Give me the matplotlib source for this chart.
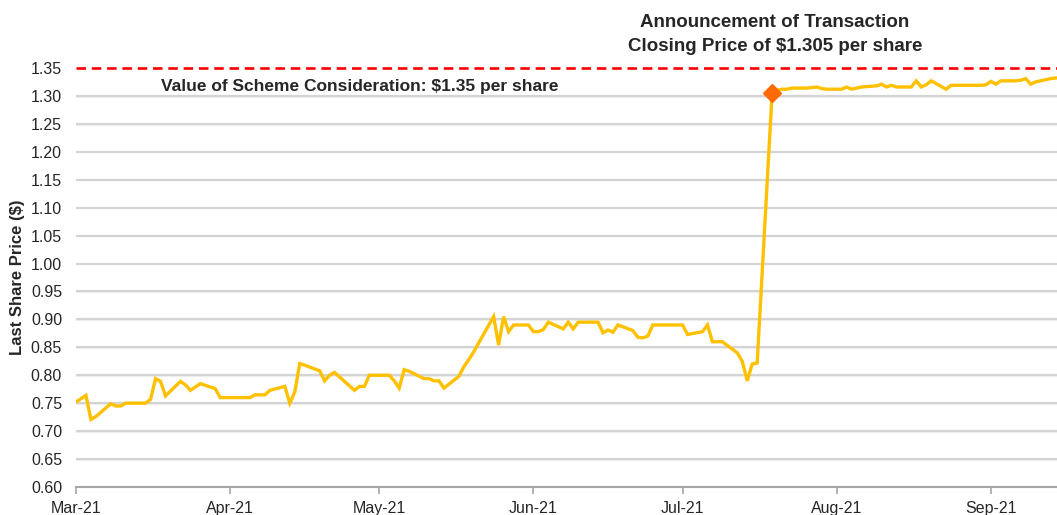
import matplotlib
matplotlib.use("Agg")
import matplotlib.pyplot as plt
import pandas as pd

start_date = "2021-03-01"
end_date = "2021-09-14"

prices = [
    # March
    0.752, 0.758, 0.764, 0.721, 0.726,
    0.749, 0.745, 0.745, 0.750, 0.750,
    0.750, 0.757, 0.794, 0.789, 0.763,
    0.789, 0.783, 0.773, 0.779, 0.785,
    0.776, 0.760, 0.760,
    # April
    0.760, 0.760,
    0.760, 0.765, 0.765, 0.765, 0.773,
    0.780, 0.750, 0.770, 0.821, 0.818,
    0.808, 0.790, 0.800, 0.805, 0.797,
    0.773, 0.780, 0.780, 0.800, 0.800,
    # May
    0.800, 0.790, 0.777, 0.810, 0.807,
    0.794, 0.794, 0.790, 0.790, 0.777,
    0.798, 0.815, 0.828, 0.842, 0.858,
    0.905, 0.854, 0.905, 0.878, 0.890,
    0.890,
    # June
    0.878, 0.878, 0.882, 0.895,
    0.883, 0.895, 0.883, 0.895, 0.895,
    0.895, 0.876, 0.881, 0.877, 0.890,
    0.880, 0.868, 0.867, 0.870, 0.890,
    0.890, 0.890, 0.890,
    # July
    0.890, 0.873,
    0.878, 0.890, 0.860, 0.860, 0.860,
    0.840, 0.825, 0.790, 0.820, 0.822,
    1.305, 1.310, 1.312, 1.312, 1.314,
    1.314, 1.315, 1.316, 1.313, 1.312,
    # August
    1.312, 1.316, 1.312, 1.314, 1.316,
    1.318, 1.321, 1.316, 1.319, 1.316,
    1.316, 1.327, 1.316, 1.320, 1.327,
    1.312, 1.319, 1.319, 1.319, 1.319,
    1.319, 1.320,
    # September
    1.326, 1.321, 1.327,
    1.327, 1.328, 1.331, 1.321, 1.325,
    1.331, 1.332,
]

scheme_value = 1.35
announce_date = "2021-07-19"
announce_price = 1.305

y_ticks = [0.60, 0.65, 0.70, 0.75, 0.80, 0.85, 0.90, 0.95, 1.00,
           1.05, 1.10, 1.15, 1.20, 1.25, 1.30, 1.35]
x_tick_dates = ["2021-03-01", "2021-04-01", "2021-05-01", "2021-06-01",
                "2021-07-01", "2021-08-01", "2021-09-01"]

dates = pd.bdate_range(start_date, end_date)
assert len(dates) == len(prices), (len(dates), len(prices))

reg = ['Liberation Sans', 'DejaVu Sans']
txtc = '#262626'

fig = plt.figure(figsize=(10.57, 5.15), dpi=100)
ax = fig.add_axes([0.0719, 0.0544, 0.9281, 0.8136])

for yt in y_ticks[1:]:
    if yt < 1.35:
        ax.axhline(yt, color='#d4d4d4', lw=1.6, zorder=1)
        ax.axhline(yt - 0.0012, color='#efefef', lw=1.2, zorder=0.9)

ax.axhline(scheme_value, color='#ff0000', lw=1.9, dashes=(3.6, 2.2),
           zorder=2, clip_on=False)

ax.plot(dates, prices, color='#ffc000', lw=2.4, zorder=3,
        solid_joinstyle='miter')
ax.plot(pd.Timestamp(announce_date), announce_price, marker='D',
        color='#ff6a00', markersize=9, zorder=4, clip_on=False)

ax.set_ylim(0.60, 1.35)
ax.set_xlim(pd.Timestamp(start_date), pd.Timestamp(end_date) + pd.Timedelta(days=0.3))
ax.set_yticks(y_ticks)
ax.set_yticklabels([f"{v:.2f}" for v in y_ticks], family=reg, fontsize=11.5,
                   color=txtc)
ax.set_xticks([pd.Timestamp(d) for d in x_tick_dates])
ax.set_xticklabels([pd.Timestamp(d).strftime('%b-%y') for d in x_tick_dates],
                   family=reg, fontsize=11.5, color=txtc)

for s in ['top', 'right', 'left']:
    ax.spines[s].set_visible(False)
ax.spines['bottom'].set_color('#a6a6a6')
ax.spines['bottom'].set_linewidth(1.5)
ax.tick_params(axis='y', length=0, pad=10)
ax.tick_params(axis='x', length=5, width=1.2, color='#a6a6a6', pad=5)

ax.set_ylabel("Last Share Price ($)", family=reg, fontsize=12, fontweight='bold',
              color=txtc, labelpad=4)

ax.text(pd.Timestamp("2021-03-18"), 1.316, "Value of Scheme Consideration: $1.35 per share",
        family=reg, fontsize=12.5, fontweight='bold', color=txtc,
        ha='left', va='center')

fig.text(775 / 1057, 1 - 34.5 / 515, "Announcement of Transaction\nClosing Price of $1.305 per share",
         family=reg, fontsize=13.5, fontweight='bold', color=txtc,
         ha='center', va='center', linespacing=1.55)

fig.savefig("out.png", dpi=100)
